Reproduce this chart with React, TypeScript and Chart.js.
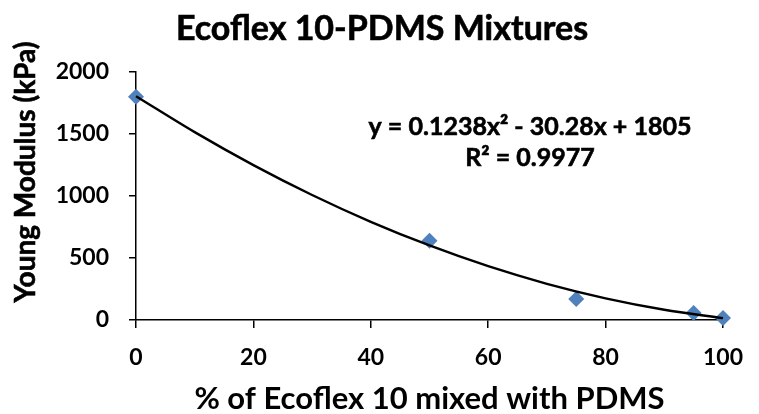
import React, { useEffect, useRef } from "react";
import { Chart, registerables } from "chart.js";

Chart.register(...registerables);

const chartTitle = "Ecoflex 10-PDMS Mixtures";
const xAxisTitle = "% of Ecoflex 10 mixed with PDMS";
const yAxisTitle = "Young Modulus (kPa)";
const equationLines = ["y = 0.1238x² - 30.28x + 1805", "R² = 0.9977"];

const ecoflexPercent = [0, 50, 75, 95, 100];
const youngModulus = [1800, 640, 170, 57, 16];

const trendX = [0, 10, 20, 30, 40, 50, 60, 70, 80, 90, 100];
const trendY = [1805, 1515, 1249, 1008, 792, 601, 434, 292, 175, 83, 15];

const FONT = "Lato, 'Open Sans', sans-serif";

const textPlugin = {
  id: "textPlugin",
  afterDraw(chart: any) {
    const ctx = chart.ctx;
    ctx.save();
    ctx.fillStyle = "#000";
    ctx.strokeStyle = "#000";
    ctx.lineWidth = 0.6;
    ctx.textAlign = "center";
    ctx.textBaseline = "middle";
    ctx.font = `bold 34px ${FONT}`;
    ctx.fillText(chartTitle, 382, 29);
    ctx.strokeText(chartTitle, 382, 29);

    ctx.save();
    ctx.translate(26, 172);
    ctx.rotate(-Math.PI / 2);
    ctx.font = `bold 28px ${FONT}`;
    ctx.fillText(yAxisTitle, 0, 0);
    ctx.strokeText(yAxisTitle, 0, 0);
    ctx.restore();

    ctx.font = `bold 25px ${FONT}`;
    ctx.fillText(equationLines[0], 530, 127);
    ctx.strokeText(equationLines[0], 530, 127);
    ctx.fillText(equationLines[1], 530, 158);
    ctx.strokeText(equationLines[1], 530, 158);
    ctx.restore();
  },
};

export default function App() {
  const ref = useRef<HTMLCanvasElement | null>(null);
  useEffect(() => {
    if (!ref.current) return;
    const chart = new Chart(ref.current, {
      type: "scatter",
      data: {
        datasets: [
          {
            label: "Trend",
            data: trendX.map((x, i) => ({ x, y: trendY[i] })),
            showLine: true,
            borderColor: "#000",
            borderWidth: 2.4,
            pointRadius: 0,
            cubicInterpolationMode: "monotone",
            order: 0,
            clip: false as any,
          },
          {
            label: "Data",
            data: ecoflexPercent.map((x, i) => ({ x, y: youngModulus[i] })),
            pointStyle: "rectRot",
            pointRadius: 8,
            backgroundColor: "#4F81BD",
            borderColor: "#4F81BD",
            borderWidth: 0,
            order: 1,
            clip: false as any,
          },
        ],
      },
      options: {
        animation: false,
        responsive: false,
        layout: { padding: { top: 72, right: 24, left: 0, bottom: 0 } },
        plugins: {
          legend: { display: false },
          title: { display: false },
          tooltip: { enabled: false },
        },
        scales: {
          x: {
            type: "linear",
            min: 0,
            max: 100,
            ticks: {
              stepSize: 20,
              color: "#000",
              padding: 16,
              font: { family: FONT, size: 23, weight: "bold" },
              callback: (v: any) => String(v),
            },
            grid: {
              drawOnChartArea: false,
              drawTicks: true,
              tickLength: 8,
              color: "#000",
              lineWidth: 1.5,
            },
            border: { display: true, color: "#000", width: 1.5 },
            title: {
              display: true,
              text: xAxisTitle,
              color: "#000",
              font: { family: FONT, size: 31, weight: "bold", lineHeight: 1 },
              padding: { top: 0, bottom: 0 },
            },
            afterFit(scale: any) {
              scale.height = 94;
            },
          },
          y: {
            type: "linear",
            min: 0,
            max: 2000,
            ticks: {
              stepSize: 500,
              color: "#000",
              padding: 20,
              font: { family: FONT, size: 23, weight: "bold" },
              callback: (v: any) => String(v),
            },
            grid: {
              drawOnChartArea: false,
              drawTicks: true,
              tickLength: 7,
              color: "#000",
              lineWidth: 1.5,
            },
            border: { display: true, color: "#000", width: 1.5 },
            afterFit(scale: any) {
              scale.width = 136;
            },
          },
        },
      } as any,
      plugins: [textPlugin],
    });
    return () => chart.destroy();
  }, []);

  return (
    <div style={{ position: "absolute", left: 0, top: 0, width: 759, height: 414, background: "#fff" }}>
      <canvas ref={ref} width={759} height={414} />
    </div>
  );
}
